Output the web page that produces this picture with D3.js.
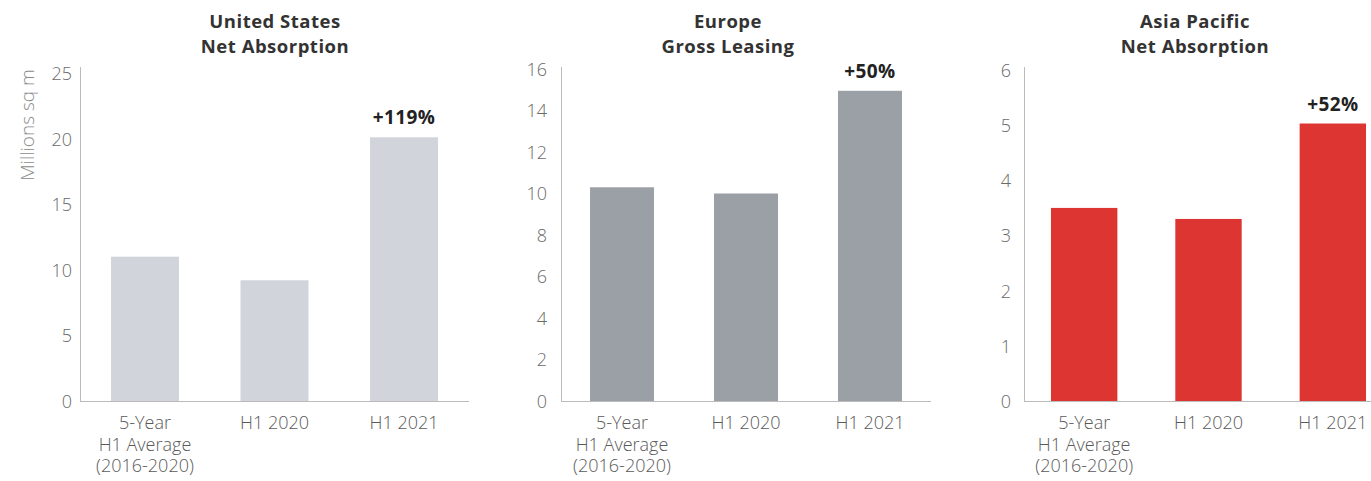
<!DOCTYPE html>
<html><head><meta charset="utf-8">
<script src="https://cdn.jsdelivr.net/npm/d3@7"></script>
<style>
body{margin:0;background:#fff;}
svg{display:block;}
text{font-family:"Open Sans","Noto Sans",sans-serif;}
</style></head>
<body>
<svg id="c" width="1371" height="481"></svg>
<script>
const categories = [["5-Year","H1 Average","(2016-2020)"],["H1 2020"],["H1 2021"]];
const catKeys = ["avg","h1_2020","h1_2021"];
const titles = [["United States","Net Absorption"],["Europe","Gross Leasing"],["Asia Pacific","Net Absorption"]];
const usValues = [11.0, 9.2, 20.1];
const euValues = [10.3, 10.0, 14.95];
const apValues = [3.5, 3.3, 5.03];
const usTicks = [0,5,10,15,20,25];
const euTicks = [0,2,4,6,8,10,12,14,16];
const apTicks = [0,1,2,3,4,5,6];
const changeLabels = ["+119%","+50%","+52%"];
const yTitle = "Millions sq m";

const panels = [
  {values:usValues, ticks:usTicks, max:25, color:"#d1d4da", x0:80, x1:469, pi:0.475, po:0.239, yTop:73, labelGap:8, titleX:275},
  {values:euValues, ticks:euTicks, max:16, color:"#9b9fa6", x0:561, x1:931, pi:0.484, po:0.234, yTop:69, labelGap:14, titleX:728},
  {values:apValues, ticks:apTicks, max:6, color:"#dd3531", x0:1024, x1:1393, pi:0.466, po:0.217, yTop:70, labelGap:13, titleX:1195}
];
const base = 401;
const svg = d3.select("#c");

panels.forEach((p,i)=>{
  const g = svg.append("g");
  const x = d3.scaleBand().domain(catKeys).range([p.x0,p.x1]).paddingInner(p.pi).paddingOuter(p.po);
  const y = d3.scaleLinear().domain([0,p.max]).range([base,p.yTop]);

  g.selectAll("rect").data(p.values).join("rect")
    .attr("x",(d,j)=>x(catKeys[j])).attr("width",x.bandwidth())
    .attr("y",d=>y(d)).attr("height",d=>base-y(d))
    .attr("fill",p.color);

  const ya = d3.axisLeft(y).tickValues(p.ticks).tickSize(0).tickPadding(p.labelGap).tickFormat(d3.format("d"));
  const yg = g.append("g").attr("transform",`translate(${p.x0},0)`).call(ya);
  yg.select(".domain").remove();
  yg.selectAll("text").attr("fill","#6a6a6a").attr("dy","0.36em").style("font-size","18px").style("font-weight","300");
  g.append("line").attr("x1",p.x0+0.5).attr("x2",p.x0+0.5).attr("y1",67).attr("y2",base).attr("stroke","#bbb").attr("stroke-width",1);
  g.append("line").attr("x1",p.x0).attr("x2",p.x1).attr("y1",base+0.5).attr("y2",base+0.5).attr("stroke","#bbb").attr("stroke-width",1);

  categories.forEach((lines,j)=>{
    const cx = x(catKeys[j]) + x.bandwidth()/2;
    lines.forEach((t,k)=>{
      g.append("text").attr("x",cx).attr("y",429 + k*21.5).attr("text-anchor","middle")
        .attr("fill","#5a5a5a").style("font-size","18px").style("font-weight","300").text(t);
    });
  });

  const last = catKeys[2];
  g.append("text").attr("x",x(last)+x.bandwidth()/2).attr("y",y(p.values[2])-13)
    .attr("text-anchor","middle").attr("fill","#222").style("font-size","19px").style("font-weight","700")
    .style("letter-spacing","0.4px").text(changeLabels[i]);

  titles[i].forEach((t,k)=>{
    g.append("text").attr("x",p.titleX).attr("y",28 + k*25).attr("text-anchor","middle")
      .attr("fill","#333").style("font-size","18.5px").style("font-weight","700")
      .style("letter-spacing","0.5px").text(t);
  });
});

svg.append("text").attr("transform","translate(34,125) rotate(-90)").attr("text-anchor","middle")
  .attr("fill","#8a8a8a").style("font-size","19px").style("font-weight","300").text(yTitle);
</script>
</body></html>
